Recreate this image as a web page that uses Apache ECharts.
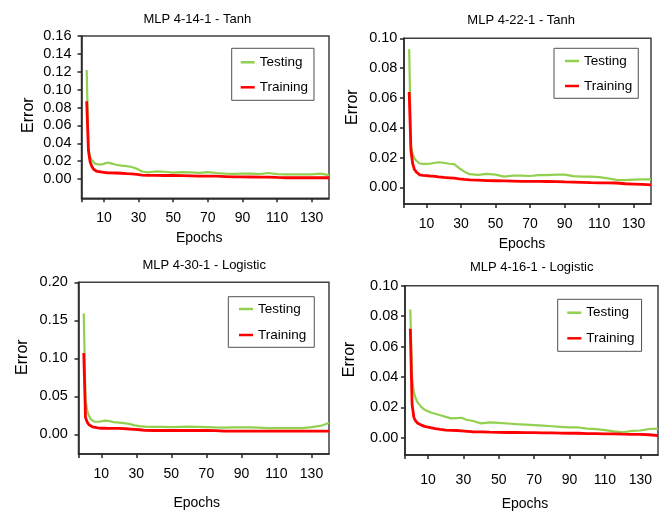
<!DOCTYPE html>
<html><head><meta charset="utf-8">
<script src="https://cdn.jsdelivr.net/npm/echarts@6/dist/echarts.min.js"></script>
<style>html,body{margin:0;padding:0;background:#fff}#c{width:661px;height:513px}</style>
</head><body><div id="c"></div>
<script>
// ---------- DATA ----------
const epochs = [0,1,2,3,4,5,6,8,10,12,14,17,20,23,26,29,32,35,40,45,50,55,60,65,70,75,80,85,90,95,100,105,110,115,120,125,130,135,140];

const titles = ['MLP 4-14-1 - Tanh', 'MLP 4-22-1 - Tanh', 'MLP 4-30-1 - Logistic', 'MLP 4-16-1 - Logistic'];
const seriesNames = ['Testing', 'Training'];

// MLP 4-14-1 - Tanh
const testing1  = [0.122,0.034,0.025,0.021,0.019,0.017,0.016,0.0162,0.017,0.0185,0.0175,0.016,0.015,0.0145,0.0135,0.0115,0.0085,0.0075,0.0085,0.0082,0.0072,0.0077,0.0075,0.007,0.0078,0.0068,0.006,0.0058,0.006,0.006,0.0055,0.0068,0.0055,0.0052,0.0052,0.0053,0.0052,0.006,0.0045];
const training1 = [0.087,0.032,0.019,0.014,0.011,0.0095,0.0085,0.008,0.0075,0.007,0.007,0.0068,0.0065,0.006,0.0058,0.0052,0.0045,0.0042,0.0042,0.004,0.004,0.0038,0.0036,0.0034,0.0033,0.0032,0.0028,0.0024,0.0024,0.0023,0.0022,0.0022,0.0018,0.0015,0.0015,0.0015,0.0015,0.0015,0.0015];
// MLP 4-22-1 - Tanh
const testing2  = [0.0926,0.028,0.0225,0.0195,0.018,0.0168,0.016,0.0157,0.0157,0.0158,0.0163,0.0168,0.0165,0.0158,0.0155,0.0128,0.0105,0.0088,0.0083,0.009,0.0085,0.0072,0.0078,0.0078,0.0076,0.0082,0.0082,0.0085,0.0085,0.0075,0.0072,0.0072,0.0068,0.006,0.005,0.0048,0.0052,0.0053,0.0053];
const training2 = [0.064,0.025,0.016,0.012,0.0105,0.0092,0.0084,0.008,0.0078,0.0076,0.0075,0.007,0.0066,0.0064,0.0062,0.0057,0.0053,0.005,0.0048,0.0045,0.0044,0.0043,0.0042,0.004,0.004,0.004,0.0039,0.0038,0.0036,0.0035,0.0033,0.0031,0.003,0.003,0.0029,0.0024,0.0022,0.002,0.0016];
// MLP 4-30-1 - Logistic
const testing3  = [0.159,0.045,0.031,0.024,0.02,0.018,0.0168,0.0165,0.017,0.018,0.0178,0.016,0.0155,0.0148,0.0138,0.0118,0.0108,0.0102,0.0098,0.0098,0.0095,0.0098,0.01,0.0098,0.0095,0.009,0.0088,0.009,0.0092,0.0092,0.0088,0.0082,0.0082,0.0082,0.0082,0.0082,0.0095,0.011,0.0148];
const training3 = [0.107,0.022,0.016,0.0125,0.0108,0.0098,0.009,0.0085,0.008,0.008,0.0078,0.0078,0.0078,0.0075,0.007,0.0066,0.006,0.0052,0.005,0.005,0.005,0.005,0.005,0.005,0.005,0.0048,0.0042,0.0042,0.0042,0.0042,0.0042,0.0042,0.0042,0.0042,0.0042,0.0042,0.0042,0.0042,0.0042];
// MLP 4-16-1 - Logistic
const testing4  = [0.0844,0.039,0.03,0.026,0.0235,0.022,0.0205,0.0185,0.0175,0.0165,0.0158,0.0148,0.0138,0.0128,0.013,0.0132,0.0117,0.0112,0.0095,0.0102,0.0098,0.0094,0.009,0.0087,0.0084,0.008,0.0076,0.0072,0.0068,0.0068,0.006,0.0057,0.0051,0.0042,0.0036,0.0045,0.0048,0.0058,0.0061];
const training4 = [0.0717,0.022,0.0135,0.0112,0.0098,0.009,0.0085,0.0075,0.007,0.0066,0.006,0.0055,0.0051,0.0049,0.0048,0.0046,0.0043,0.004,0.0039,0.0037,0.0036,0.0035,0.0035,0.0034,0.0034,0.0033,0.0032,0.0031,0.003,0.003,0.0028,0.0027,0.0026,0.0026,0.0024,0.0023,0.0022,0.002,0.0015];

const yTicks1 = [0, 0.02, 0.04, 0.06, 0.08, 0.10, 0.12, 0.14, 0.16];
const yTicks2 = [0, 0.02, 0.04, 0.06, 0.08, 0.10];
const yTicks3 = [0, 0.05, 0.10, 0.15, 0.20];
const yTicks4 = [0, 0.02, 0.04, 0.06, 0.08, 0.10];
const xTickLabels = [10, 30, 50, 70, 90, 110, 130];

const testingSets = [testing1, testing2, testing3, testing4];
const trainingSets = [training1, training2, training3, training4];
const yTickSets = [yTicks1, yTicks2, yTicks3, yTicks4];
const yMins = [-0.0215, -0.0112, -0.0259, -0.0113];
const xMin = -3, xMax = 140;

// ---------- LAYOUT ----------
const FONT = 'Liberation Sans';
const layouts = [
  {grid:{left:81.5, top:36, width:247.5, height:162.3}, title:[197.3,19], ylm:10, yng:45, yUp:2, xlm:12, xng:32, xLeft:12,
   lg:{x:231.7, y:48.3, pad:[6,6,5,9], gap:9}},
  {grid:{left:404, top:38.3, width:247, height:165.7}, title:[521.2,20.7], ylm:6.6, yng:43.6, yUp:14, xlm:12, xng:32, xLeft:11,
   lg:{x:554, y:48.3, pad:[4.7,6,4.3,11], gap:9}},
  {grid:{left:78.5, top:282.3, width:250.5, height:171.7}, title:[204.2,265], ylm:10.7, yng:48.3, yUp:11, xlm:12, xng:40.7, xLeft:14,
   lg:{x:228.3, y:296.7, pad:[4.3,8,4.3,10.7], gap:10}},
  {grid:{left:405, top:285.7, width:253, height:174.3}, title:[531.7,267.3], ylm:6.7, yng:47, yUp:11, xlm:17, xng:41, xLeft:13,
   lg:{x:557.7, y:299.3, pad:[5.4,7,5,9.6], gap:9.6}}
];

const grids = [], xAxes = [], yAxes = [], series = [], legends = [], graphics = [];
layouts.forEach((L, i) => {
  grids.push(Object.assign({show:true, borderColor:'#404040', borderWidth:1.5, backgroundColor:'#fff'}, L.grid));
  xAxes.push({
    type:'value', gridIndex:i, min:xMin, max:xMax,
    name:'Epochs', nameLocation:'middle', nameGap:L.xng,
    nameTextStyle:{fontFamily:FONT, fontSize:14, color:'#000', lineHeight:16, padding:[0,L.xLeft,0,0]},
    axisLine:{show:true, onZero:false, lineStyle:{color:'#262626', width:1.5}},
    axisTick:{show:true, length:4, customValues:[xMin].concat(xTickLabels), lineStyle:{color:'#262626', width:1.5}},
    axisLabel:{customValues:xTickLabels, margin:L.xlm, fontFamily:FONT, fontSize:14, color:'#000', lineHeight:16},
    splitLine:{show:false}
  });
  const yt = yTickSets[i];
  yAxes.push({
    type:'value', gridIndex:i, min:yMins[i], max:yt[yt.length-1],
    name:'Error', nameLocation:'middle', nameGap:L.yng,
    nameTextStyle:{fontFamily:FONT, fontSize:16, color:'#000', lineHeight:16, padding:[0,0,0,2*L.yUp]},
    axisLine:{show:true, onZero:false, lineStyle:{color:'#262626', width:1.5}},
    axisTick:{show:true, length:4, customValues:yt, lineStyle:{color:'#262626', width:1.5}},
    axisLabel:{customValues:yt, margin:L.ylm, fontFamily:FONT, fontSize:14.5, color:'#000', formatter:v => v.toFixed(2)},
    splitLine:{show:false}
  });
  series.push({
    name:seriesNames[0], type:'line', xAxisIndex:i, yAxisIndex:i, symbol:'none', showSymbol:false,
    data:epochs.map((e,k)=>[e, testingSets[i][k]]),
    itemStyle:{color:'#92D050'}, lineStyle:{color:'#92D050', width:2.2}, z:2
  });
  series.push({
    name:seriesNames[1], type:'line', xAxisIndex:i, yAxisIndex:i, symbol:'none', showSymbol:false,
    data:epochs.map((e,k)=>[e, trainingSets[i][k]]),
    itemStyle:{color:'#FF0000'}, lineStyle:{color:'#FF0000', width:2.8}, z:3
  });
  legends.push({
    data:seriesNames, orient:'vertical', left:L.lg.x, top:L.lg.y, padding:L.lg.pad, itemGap:L.lg.gap,
    itemWidth:14, itemHeight:2.5, icon:'rect', selectedMode:false,
    borderColor:'#505050', borderWidth:1, backgroundColor:'#fff',
    textStyle:{fontFamily:FONT, fontSize:13.5, color:'#000', lineHeight:16}
  });
  graphics.push({
    type:'text', x:L.title[0], y:L.title[1], silent:true,
    style:{text:titles[i], fontFamily:FONT, fontSize:13, fill:'#000', align:'center', verticalAlign:'middle'}
  });
});

const chart = echarts.init(document.getElementById('c'), null, {renderer:'canvas'});
chart.setOption({
  animation:false,
  backgroundColor:'#fff',
  grid:grids, xAxis:xAxes, yAxis:yAxes, series:series, legend:legends, graphic:graphics
});
</script>
</body></html>
